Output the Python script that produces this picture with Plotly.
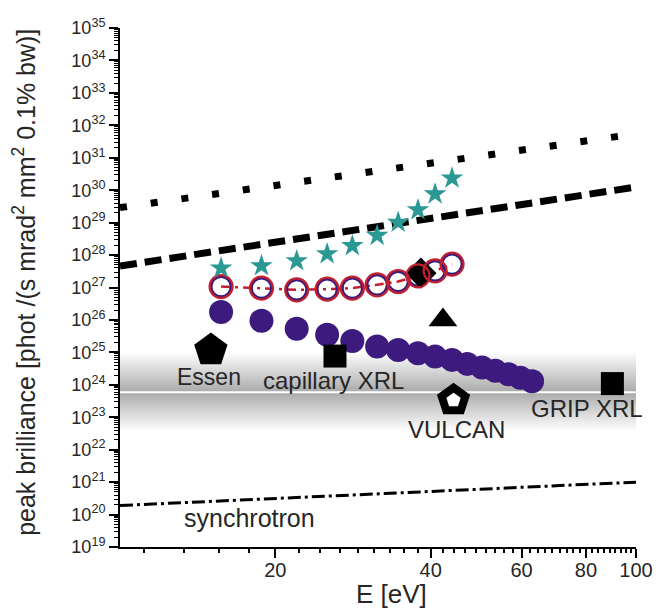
import numpy as np
import plotly.graph_objects as go

# ---- photon energies of the harmonic orders [eV] ----
harm_E = [15.7, 18.8, 22.0, 25.2, 28.2, 31.5, 34.6, 37.8, 40.8, 44.0]
# peak brilliance [phot/(s mrad^2 mm^2 0.1% bw)]
star_B = [3.95e27, 4.66e27, 6.64e27, 1.09e28, 1.93e28, 4.0e28, 1.01e29, 2.48e29, 7.6e29, 2.36e30]
open_B = [1.07e27, 9.55e26, 8.47e26, 8.9e26, 9.55e26, 1.21e27, 1.53e27, 2.29e27, 3.27e27, 5.26e27]
filled_E = harm_E + [47.1, 50.3, 53.4, 56.6, 59.7, 62.9]
filled_B = [1.77e26, 9.4e25, 5.31e25, 3.47e25, 2.26e25, 1.51e25, 1.19e25, 9.4e24,
            7.4e24, 5.87e24, 4.42e24, 3.44e24, 2.69e24, 2.10e24, 1.64e24, 1.28e24]

# ---- reference scaling lines ----
dotted_E, dotted_B = [10, 97], [2.9e29, 5.1e31]
dashed_E, dashed_B = [10, 100], [4.6e27, 1.25e30]
synch_E, synch_B = [10, 100], [1.9e20, 1.0e21]

# ---- single sources ----
essen_E, essen_B = 15.0, 1.18e25
capxrl_E, capxrl_B = 26.1, 7.7e24
diamond_E, diamond_B = 38.3, 2.77e27
triangle_E, triangle_B = 42.25, 1.0e26
vulcan_E, vulcan_B = 44.3, 3.36e23
grip_E, grip_B = 90.0, 1.09e24

# ---- shaded band (log10 of brilliance) ----
band_low, band_mid, band_high = 22.6, 23.77, 25.0

# ---- axis ticks ----
x_major = [20, 40, 60, 80, 100]
x_minor = [k * 20 / 9 for k in range(5, 46) if k % 9 != 0]
y_decades = list(range(19, 36))
y_major = [10.0 ** n for n in y_decades]
y_labels = [f"10<sup>{n}</sup>" for n in y_decades]
y_minor = [m * 10.0 ** n for n in y_decades[:-1] for m in range(2, 10)]

FONT = "Liberation Sans, Arial, sans-serif"
TEXT = "#262626"
PURPLE = "#3c1a7e"
RED = "#c2202f"
TEAL = "#2a9893"

fig = go.Figure()

# gradient band: nested strips stacked outwards from the centre line
n_strips = 28
for k in range(1, n_strips + 1):
    f = k / n_strips
    for edge in (band_high, band_low):
        y_far = 10 ** (band_mid + f * (edge - band_mid))
        fig.add_trace(go.Scatter(
            x=[10, 100, 100, 10], y=[10 ** band_mid, 10 ** band_mid, y_far, y_far],
            fill="toself", mode="none", fillcolor="rgba(0,0,0,0.0115)",
            hoverinfo="skip", showlegend=False))
fig.add_trace(go.Scatter(x=[10, 100], y=[10 ** band_mid] * 2, mode="lines",
                         line=dict(color="white", width=2), hoverinfo="skip", showlegend=False))

# scaling lines
fig.add_trace(go.Scatter(x=dotted_E, y=dotted_B, mode="lines",
                         line=dict(color="black", width=7, dash="7px,24px"), showlegend=False))
fig.add_trace(go.Scatter(x=dashed_E, y=dashed_B, mode="lines",
                         line=dict(color="black", width=7, dash="17px,8px"), showlegend=False))
fig.add_trace(go.Scatter(x=synch_E, y=synch_B, mode="lines",
                         line=dict(color="black", width=3, dash="13px,4px,3px,4px"), showlegend=False))


def single(x, y, symbol, size, color="black", lw=0, lc="black"):
    fig.add_trace(go.Scatter(x=[x], y=[y], mode="markers",
                             marker=dict(symbol=symbol, size=size, color=color,
                                         line=dict(width=lw, color=lc)),
                             showlegend=False))


# filled circles
fig.add_trace(go.Scatter(x=filled_E, y=filled_B, mode="markers",
                         marker=dict(symbol="circle", size=24, color=PURPLE, line=dict(width=0)),
                         showlegend=False))
# open circles with connecting dash-dot line
fig.add_trace(go.Scatter(x=harm_E, y=open_B, mode="lines",
                         line=dict(color=RED, width=2.5, dash="9px,5px,3px,5px"), showlegend=False))
fig.add_trace(go.Scatter(x=harm_E, y=open_B, mode="markers",
                         marker=dict(symbol="circle-open", size=20, color=PURPLE, line=dict(width=2.8)),
                         showlegend=False))
# diamond between the two rings
single(diamond_E, diamond_B, "diamond", 24)
fig.add_trace(go.Scatter(x=harm_E, y=open_B, mode="markers",
                         marker=dict(symbol="circle-open", size=23, color=RED, line=dict(width=2.2)),
                         showlegend=False))
# stars
fig.add_trace(go.Scatter(x=harm_E, y=star_B, mode="markers",
                         marker=dict(symbol="star", size=17, color=TEAL, line=dict(width=0)),
                         showlegend=False))

# individual sources
single(essen_E, essen_B, "pentagon", 35)
single(capxrl_E, capxrl_B, "square", 23)
single(triangle_E, triangle_B, "triangle-up", 25)
single(vulcan_E, vulcan_B, "pentagon", 25, color="white", lw=8)
single(grip_E, grip_B, "square", 23)

# text labels (annotation coordinates on log axes are log10 values)
labels = [
    ("Essen", 14.9, 1.78e24, 23),
    ("capillary XRL", 25.9, 1.35e24, 24),
    ("VULCAN", 44.8, 4.07e22, 24),
    ("GRIP XRL", 80.3, 1.9e23, 24),
    ("synchrotron", 17.8, 7.9e19, 25),
]
annotations = [dict(x=np.log10(e), y=np.log10(b), xref="x", yref="y", text=t, showarrow=False,
                    font=dict(family=FONT, size=s, color=TEXT), xanchor="center", yanchor="middle")
               for t, e, b, s in labels]
annotations.append(dict(x=-0.185, y=0.51, xref="paper", yref="paper", textangle=-90, showarrow=False,
                        text="peak brilliance [phot /(s mrad<sup>2</sup> mm<sup>2</sup> 0.1% bw)]",
                        font=dict(family=FONT, size=25, color=TEXT), xanchor="center", yanchor="middle"))
annotations.append(dict(x=0.526, y=-0.091, xref="paper", yref="paper", showarrow=False,
                        text="E [eV]", font=dict(family=FONT, size=26, color=TEXT),
                        xanchor="center", yanchor="middle"))

fig.update_layout(
    width=667, height=611,
    margin=dict(l=120, r=31, t=28, b=64),
    paper_bgcolor="white", plot_bgcolor="white",
    showlegend=False,
    annotations=annotations,
    font=dict(family=FONT, color=TEXT),
    xaxis=dict(type="log", range=[1, 2], showgrid=False, zeroline=False,
               showline=True, linecolor="black", linewidth=2,
               ticks="outside", ticklen=9, tickwidth=2, tickcolor="black",
               tickmode="array", tickvals=x_major, ticktext=[str(v) for v in x_major],
               tickfont=dict(family=FONT, size=20, color=TEXT), ticklabelstandoff=-5,
               minor=dict(tickmode="array", tickvals=x_minor, ticks="outside",
                          ticklen=4, tickwidth=1.5, tickcolor="black", showgrid=False)),
    yaxis=dict(type="log", range=[19, 35], showgrid=False, zeroline=False,
               showline=True, linecolor="black", linewidth=2,
               ticks="outside", ticklen=9, tickwidth=2, tickcolor="black",
               tickmode="array", tickvals=y_major, ticktext=y_labels,
               tickfont=dict(family=FONT, size=18, color=TEXT),
               minor=dict(tickmode="array", tickvals=y_minor, ticks="outside",
                          ticklen=4, tickwidth=1.2, tickcolor="black", showgrid=False)),
)

fig.write_html("out.html")
